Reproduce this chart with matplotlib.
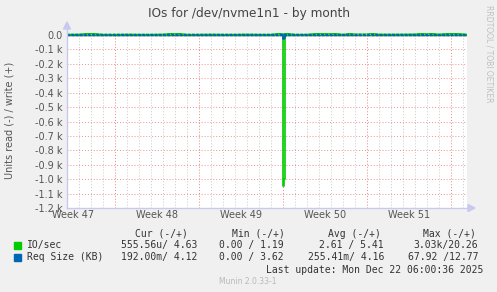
import matplotlib
matplotlib.use("Agg")
import matplotlib.pyplot as plt
import numpy as np

# --- data (days from left edge of the graph) ---
day_t = [0, 1, 2, 3, 4, 5, 6, 7, 8, 9, 10, 11, 12, 13, 14, 15, 16,
         17, 18, 19, 20, 21, 22, 23, 24, 25, 26, 27, 28, 29, 30, 31, 32, 33.3]
io_write = [4, 5, 12, 4, 4, 5, 4, 4, 5, 13, 4, 4, 5, 4, 4, 5, 4,
            4, 14, 4, 4, 12, 13, 4, 15, 15, 5, 5, 5, 6, 14, 5, 12, 5]
io_read = [-1, -1, -2, -1, -1, -1, -1, -1, -2, -1, -1, -1, -1, -1, -1, -1, -1,
           -1, -2, -1, -1, -1, -1, -1, -1, -2, -1, -1, -2, -1, -1, -1, -2, -1]
req_write = [4, 4, 4, 4, 4, 4, 4, 4, 4, 4, 4, 4, 4, 4, 4, 4, 4,
             4, 5, 4, 4, 4, 4, 4, 4, 4, 4, 4, 4, 4, 4, 4, 4, 4]
req_read = [0, 0, 0, 0, 0, 0, 0, 0, 0, 0, 0, 0, 0, 0, 0, 0, 0,
            0, 0, 0, 0, 0, 0, 0, 0, 0, 0, 0, 0, 0, 0, 0, 0, 0]

# spike at start of week 50
spike_t = [17.95, 18.0, 18.08, 18.17, 18.25]
spike_io = [0, -1050, -1000, -10, 0]
spike_req = [0, -30, -20, -2, 0]

week_lines = [4, 11, 18, 25, 32]
week_labels = ['Week 47', 'Week 48', 'Week 49', 'Week 50', 'Week 51']
week_label_pos = [0.5, 7.5, 14.5, 21.5, 28.5]
yticks = [0, -100, -200, -300, -400, -500, -600, -700, -800, -900, -1000, -1100, -1200]
ytick_labels = ['0.0', '-0.1 k', '-0.2 k', '-0.3 k', '-0.4 k', '-0.5 k', '-0.6 k',
                '-0.7 k', '-0.8 k', '-0.9 k', '-1.0 k', '-1.1 k', '-1.2 k']

W, H = 497, 292
fig = plt.figure(figsize=(W / 100, H / 100), dpi=100, facecolor='#f0f0f0')

def fx(px):
    return px / W

def fy(py):
    return 1 - py / H

ax = fig.add_axes([fx(67), fy(208), fx(467) - fx(67), fy(33) - fy(208)])
ax.set_facecolor('white')
xmax = 33.33
ax.set_xlim(0, xmax)
ax.set_ylim(-1200, 14)
for s in ax.spines.values():
    s.set_visible(False)

# grid
for d in range(0, 34):
    if d not in week_lines:
        ax.axvline(d, color='#c8c8c8', lw=0.7, ls=(0, (1, 2)), zorder=1)
for d in week_lines:
    ax.axvline(d, color='#f08080', lw=0.7, ls=(0, (1, 2)), zorder=1)
for v in yticks[1:]:
    ax.axhline(v, color='#f09090', lw=0.7, ls=(0, (1, 2)), zorder=1)

ax.axhline(0, color='black', lw=1.0, zorder=2)

ax.plot(day_t, io_write, color='#00cc00', lw=1, zorder=3)
ax.plot(day_t, io_read, color='#00cc00', lw=1, zorder=3)
ax.plot(spike_t, spike_io, color='#00cc00', lw=1.2, drawstyle='steps-post', zorder=3)
ax.plot(day_t, req_write, color='#0066b3', lw=1, ls=(0, (2, 1)), zorder=4)
ax.plot(day_t, req_read, color='#0066b3', lw=1, ls=(0, (2, 1)), zorder=4)
ax.plot(spike_t, spike_req, color='#0066b3', lw=1.2, drawstyle='steps-post', zorder=4)

tick_color = '#555555'
ax.set_yticks(yticks)
ax.set_yticklabels(ytick_labels, fontsize=7, color=tick_color)
ax.set_xticks(week_label_pos)
ax.set_xticklabels(week_labels, fontsize=7, color=tick_color)
ax.tick_params(axis='both', length=0, pad=3)
ax.tick_params(axis='x', pad=1.5)

# axes with arrows
axis_col = '#c8c8f0'
fig.add_artist(plt.Line2D([fx(67), fx(67)], [fy(208), fy(28)], color=axis_col, lw=1))
fig.add_artist(plt.Line2D([fx(67), fx(470)], [fy(208), fy(208)], color=axis_col, lw=1))
fig.patches.append(plt.Polygon([[fx(63.5), fy(29)], [fx(70.5), fy(29)], [fx(67), fy(22)]],
                               closed=True, color=axis_col, transform=fig.transFigure))
fig.patches.append(plt.Polygon([[fx(468), fy(204.5)], [fx(468), fy(211.5)], [fx(475), fy(208)]],
                               closed=True, color=axis_col, transform=fig.transFigure))

fig.text(0.5, fy(13), 'IOs for /dev/nvme1n1 - by month', ha='center', va='center',
         fontsize=8.7, color='#444444')
fig.text(fx(10), fy(120), 'Units read (-) / write (+)', rotation=90, ha='center', va='center',
         fontsize=7, color=tick_color)
fig.text(fx(489), fy(5), 'RRDTOOL / TOBI OETIKER', rotation=270, ha='center', va='top',
         fontsize=5.5, color='#c0c0c0')

# legend
mono = 'DejaVu Sans Mono'
lc = '#333333'
fs = 7
fig.text(fx(135), fy(234), 'Cur (-/+)', family=mono, fontsize=fs, color=lc, va='center')
fig.text(fx(232), fy(234), 'Min (-/+)', family=mono, fontsize=fs, color=lc, va='center')
fig.text(fx(328), fy(234), 'Avg (-/+)', family=mono, fontsize=fs, color=lc, va='center')
fig.text(fx(423), fy(234), 'Max (-/+)', family=mono, fontsize=fs, color=lc, va='center')

rows = [
    ('#00cc00', 'IO/sec', '555.56u/ 4.63', '0.00 / 1.19', '2.61 / 5.41', '3.03k/20.26', 245),
    ('#0066b3', 'Req Size (KB)', '192.00m/ 4.12', '0.00 / 3.62', '255.41m/ 4.16', '67.92 /12.77', 257),
]
for col, name, cur, mn, avg, mx, y in rows:
    fig.patches.append(plt.Rectangle((fx(14), fy(y + 3.5)), fx(7), fy(0) - fy(7),
                                     color=col, transform=fig.transFigure))
    fig.text(fx(27), fy(y), name, family=mono, fontsize=fs, color=lc, va='center')
    fig.text(fx(197), fy(y), cur, family=mono, fontsize=fs, color=lc, va='center', ha='right')
    fig.text(fx(284), fy(y), mn, family=mono, fontsize=fs, color=lc, va='center', ha='right')
    fig.text(fx(384), fy(y), avg, family=mono, fontsize=fs, color=lc, va='center', ha='right')
    fig.text(fx(478), fy(y), mx, family=mono, fontsize=fs, color=lc, va='center', ha='right')

fig.text(fx(483), fy(270), 'Last update: Mon Dec 22 06:00:36 2025', family=mono, fontsize=fs,
         color=lc, va='center', ha='right')
fig.text(fx(248), fy(282), 'Munin 2.0.33-1', fontsize=5.5, color='#b8b8b8', va='center', ha='center')

fig.savefig('out.png', dpi=100, facecolor=fig.get_facecolor())
